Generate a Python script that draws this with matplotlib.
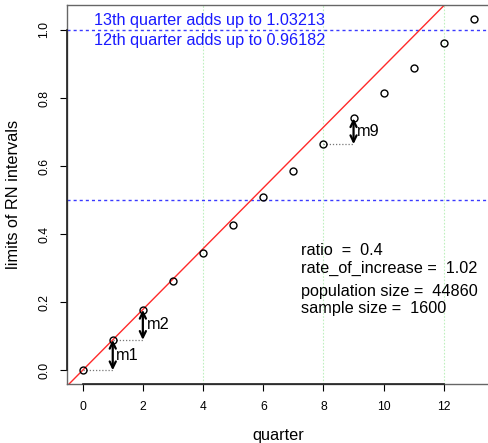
import numpy as np
import matplotlib
matplotlib.use('Agg')
import matplotlib.pyplot as plt

plt.rcParams['font.family'] = ['Liberation Sans', 'DejaVu Sans']

# cumulative limits of the RN intervals per quarter
quarters = np.arange(0, 14)
limits = [0.0, 0.0893, 0.1775, 0.2625, 0.3460, 0.4280, 0.5080, 0.5865,
          0.6645, 0.7405, 0.8155, 0.8890, 0.96182, 1.03213]
marked = [1, 2, 9]           # quarters with m-arrows
vlines = [4, 8, 12]          # green guides
hlines = [0.5, 1.0]          # blue guides
xticks = [0, 2, 4, 6, 8, 10, 12]
yticks = [0.0, 0.2, 0.4, 0.6, 0.8, 1.0]
info = ['ratio  =  0.4', 'rate_of_increase =  1.02',
        'population size =  44860', 'sample size =  1600']
info_y = [0.338, 0.287, 0.2175, 0.169]

fig = plt.figure(figsize=(4.89, 4.43), dpi=100)
ax = fig.add_axes([67 / 489, 58.7 / 443, 422.6 / 489, 379.3 / 443])

# R style axis range (4% padding)
xr = quarters.max() - quarters.min()
yr = max(limits) - min(limits)
ax.set_xlim(quarters.min() - 0.04 * xr, quarters.max() + 0.04 * xr)
ax.set_ylim(min(limits) - 0.04 * yr, max(limits) + 0.04 * yr)

for v in vlines:
    ax.axvline(v, color='#bff0bf', lw=0.8, ls=(0, (1.5, 1.5)), zorder=0)
for h in hlines:
    ax.axhline(h, color='#3a3aff', lw=1.0, ls=(0, (2.2, 2.2)), zorder=1)

# reference line through origin with slope of the first step
slope = limits[1] - limits[0]
xx = np.array(ax.get_xlim())
ax.plot(xx, slope * xx, color='#ff2a2a', lw=1.0, zorder=2)
ax.set_xlim(xx)

ax.plot(quarters, limits, 'o', mfc='none', mec='black', ms=5, mew=1.0, zorder=3)

for q in marked:
    y0, y1 = limits[q - 1], limits[q]
    ax.plot([q - 1, q], [y0, y0], color='#777777', lw=0.9, ls=(0, (1, 1.5)), zorder=2)
    ax.annotate('', xy=(q, y1), xytext=(q, y0),
                arrowprops=dict(arrowstyle='<->,head_length=0.45,head_width=0.22',
                                color='black', lw=1.6, shrinkA=0, shrinkB=0), zorder=4)
    ax.text(q + 0.12, (y0 + y1) / 2, 'm%d' % q, fontsize=11.7, va='center', ha='left')

ax.text(0.385, 1.014, '13th quarter adds up to %.5f' % limits[13], color='#1a1aff',
        fontsize=11.7, va='baseline', ha='left')
ax.text(0.385, 0.9568, '12th quarter adds up to %.5f' % limits[12], color='#1a1aff',
        fontsize=11.7, va='baseline', ha='left')

for s, y in zip(info, info_y):
    ax.text(7.25, y, s, fontsize=11.7, va='baseline', ha='left')

ax.set_xticks(xticks)
ax.set_yticks(yticks)
ax.set_xticklabels([str(t) for t in xticks])
ax.set_yticklabels(['%.1f' % t for t in yticks], rotation=90, va='center')
ax.tick_params(axis='both', direction='out', length=5, width=0.8, labelsize=8.7,
               colors='black')
ax.tick_params(axis='x', pad=7)
ax.tick_params(axis='y', pad=7)

for side in ['left', 'bottom', 'top']:
    ax.spines[side].set_color('#666666')
    ax.spines[side].set_linewidth(1.0)
ax.spines['right'].set_visible(False)

# darker axis lines between first and last tick, as R draws them
ylo = ax.get_ylim()[0]
xlo = ax.get_xlim()[0]
ax.plot([xticks[0], xticks[-1]], [ylo, ylo], color='#222222', lw=1.2, clip_on=False, zorder=5)
ax.plot([xlo, xlo], [yticks[0], yticks[-1]], color='#222222', lw=1.2, clip_on=False, zorder=5)

ax.set_xlabel('quarter', fontsize=11.7)
ax.set_ylabel('limits of RN intervals', fontsize=11.7)
ax.xaxis.set_label_coords(0.5, -0.134)
ax.yaxis.set_label_coords(-0.127, 0.5)
ax.xaxis.label.set_va('center')
ax.yaxis.label.set_va('center')

fig.savefig('out.png', dpi=100)
